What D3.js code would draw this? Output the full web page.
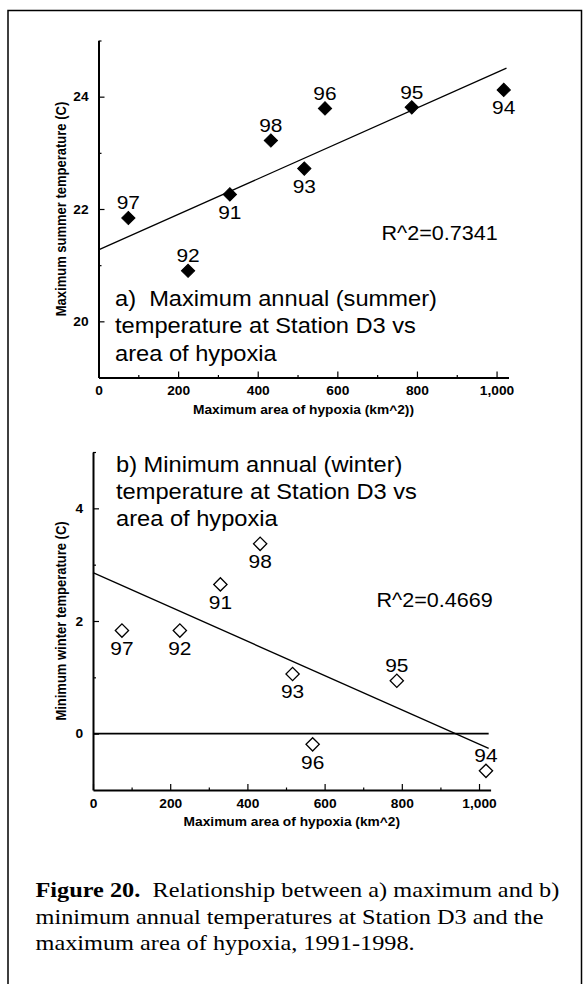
<!DOCTYPE html>
<html>
<head>
<meta charset="utf-8">
<script src="https://cdn.jsdelivr.net/npm/d3@7"></script>
<style>
  html, body { margin: 0; padding: 0; background: #fff; }
  svg { display: block; }
  text { white-space: pre; }
</style>
</head>
<body>
<svg id="fig" width="586" height="984"></svg>
<script>
// ---- data: station D3, 1991-1998 ----
const years          = ["97", "92", "91", "98", "93", "96", "95", "94"];
const hypoxiaArea    = [75, 225, 330, 433, 517, 569, 787, 1018];          // km^2
const maxSummerTemp  = [21.84, 20.90, 22.26, 23.22, 22.72, 23.79, 23.81, 24.12]; // C
const minWinterTemp  = [1.83, 1.83, 2.65, 3.37, 1.06, -0.19, 0.94, -0.66];       // C
const summerLabelSide = ["above", "above", "below", "above", "below", "above", "above", "below"];
const winterLabelSide = ["below", "below", "below", "below", "below", "below", "above", "above"];

const xTicks        = [0, 200, 400, 600, 800, 1000];
const xMinorTicks   = [100, 300, 500, 700, 900];
const summerTicks   = [20, 22, 24];
const summerMinor   = [21, 23, 25];
const winterTicks   = [0, 2, 4];
const winterMinor   = [1, 3, 5];
const fitExtent     = [0, 1025];

const summerR2 = "R^2=0.7341";
const winterR2 = "R^2=0.4669";
const summerTitle = ["a)  Maximum annual (summer)", "temperature at Station D3 vs", "area of hypoxia"];
const winterTitle = ["b) Minimum annual (winter)", "temperature at Station D3 vs", "area of hypoxia"];
const summerXTitle = "Maximum area of hypoxia (km^2))";
const winterXTitle = "Maximum area of hypoxia (km^2)";
const summerYTitle = "Maximum summer temperature (C)";
const winterYTitle = "Minimum winter temperature (C)";
const captionBold = "Figure 20.";
const captionLines = [
  "  Relationship between a) maximum and b)",
  "minimum annual temperatures at Station D3 and the",
  "maximum area of hypoxia, 1991-1998."
];

// ---- drawing ----
const SANS = "'Liberation Sans', Arial, Helvetica, sans-serif";
const SERIF = "'Liberation Serif', 'Times New Roman', serif";
const SX = 1.1;   // horizontal stretch of lettering

const svg = d3.select("#fig");

// outer frame of the figure box
svg.append("rect")
  .attr("x", 8).attr("y", 10.5).attr("width", 573.5).attr("height", 1000)
  .attr("fill", "none").attr("stroke", "#000").attr("stroke-width", 1.5);

function linearFit(xs, ys) {
  const mx = d3.mean(xs), my = d3.mean(ys);
  let sxy = 0, sxx = 0;
  xs.forEach((x, i) => { sxy += (x - mx) * (ys[i] - my); sxx += (x - mx) * (x - mx); });
  const slope = sxy / sxx;
  return { slope, intercept: my - slope * mx };
}

function stretchedText(g, x, y, str, size, opts = {}) {
  return g.append("text")
    .attr("transform", `translate(${x},${y}) scale(${opts.sx || SX},1)`)
    .attr("text-anchor", opts.anchor || "start")
    .attr("font-family", opts.family || SANS)
    .attr("font-size", size)
    .attr("font-weight", opts.weight || "normal")
    .attr("fill", "#000")
    .text(str);
}

function drawPanel(cfg) {
  const g = svg.append("g");
  const x = d3.scaleLinear().domain([0, 1030]).range(cfg.xRange);
  const y = d3.scaleLinear().domain(cfg.yDomain).range(cfg.yRange);
  const x0 = cfg.xRange[0], yb = cfg.yRange[0];

  // major + minor ticks on the bottom axis
  const xAxis = g.append("g").attr("transform", `translate(0,${yb})`)
    .call(d3.axisBottom(x).tickValues(xTicks).tickFormat(d3.format(","))
      .tickSize(-6).tickSizeOuter(0).tickPadding(9));
  g.append("g").attr("transform", `translate(0,${yb})`)
    .call(d3.axisBottom(x).tickValues(xMinorTicks).tickFormat("").tickSize(-2.5).tickSizeOuter(0))
    .call(s => s.select(".domain").remove());

  const yAxis = g.append("g").attr("transform", `translate(${x0},0)`)
    .call(d3.axisLeft(y).tickValues(cfg.yTicks).tickFormat(d3.format("d"))
      .tickSize(-6).tickSizeOuter(0).tickPadding(9));
  g.append("g").attr("transform", `translate(${x0},0)`)
    .call(d3.axisLeft(y).tickValues(cfg.yMinor).tickFormat("").tickSize(-3).tickSizeOuter(0))
    .call(s => s.select(".domain").remove());

  g.selectAll(".domain").attr("stroke", "#000").attr("stroke-width", 2);
  g.selectAll(".tick line").attr("stroke", "#000").attr("stroke-width", 1.2);
  [xAxis, yAxis].forEach(a => a.selectAll("text")
    .attr("font-family", SANS).attr("font-size", 12.5).attr("font-weight", "bold")
    .attr("fill", "#000").attr("transform", `scale(${SX},1)`));

  // axis titles
  const xMid = (cfg.xRange[0] + cfg.xRange[1]) / 2;
  stretchedText(g, xMid, yb + 36, cfg.xTitle, 12.5, { anchor: "middle", weight: "bold" });
  const yMid = (cfg.yRange[0] + cfg.yRange[1]) / 2;
  g.append("text")
    .attr("transform", `translate(${cfg.yTitleX},${yMid}) scale(${SX},1) rotate(-90)`)
    .attr("text-anchor", "middle").attr("dy", "0.35em")
    .attr("font-family", SANS).attr("font-size", 13).attr("font-weight", "bold")
    .text(cfg.yTitle);

  // reference line
  if (cfg.zeroLine) {
    g.append("path")
      .attr("d", d3.line()([[x(fitExtent[0]), y(0)], [x(fitExtent[1]), y(0)]]))
      .attr("stroke", "#000").attr("stroke-width", 1.6).attr("fill", "none");
  }

  // least-squares trend line
  const fit = linearFit(hypoxiaArea, cfg.values);
  g.append("path")
    .attr("d", d3.line()(fitExtent.map(v => [x(v), y(fit.intercept + fit.slope * v)])))
    .attr("stroke", "#000").attr("stroke-width", 1.3).attr("fill", "none");

  // markers
  const diamond = d3.symbol(d3.symbolSquare, 88)();
  g.selectAll(".pt").data(cfg.values).join("path")
    .attr("class", "pt")
    .attr("d", diamond)
    .attr("transform", (d, i) => `translate(${x(hypoxiaArea[i])},${y(d)}) rotate(45)`)
    .attr("fill", cfg.filled ? "#000" : "#fff")
    .attr("stroke", "#000").attr("stroke-width", cfg.filled ? 1 : 1.3);

  // year labels
  cfg.values.forEach((d, i) => {
    const off = cfg.sides[i] === "above" ? -8.5 : 24.5;
    stretchedText(g, x(hypoxiaArea[i]), y(d) + off, years[i], 19, { anchor: "middle" });
  });

  // panel title and R^2
  cfg.title.forEach((line, i) =>
    stretchedText(g, cfg.titlePos[0], cfg.titlePos[1] + i * 27.3, line, 21.5));
  stretchedText(g, cfg.r2Pos[0], cfg.r2Pos[1], cfg.r2, 20, { sx: 1.08 });
}

drawPanel({
  xRange: [98.5, 508.5], yDomain: [19, 25], yRange: [377.5, 40.5],
  yTicks: summerTicks, yMinor: summerMinor,
  values: maxSummerTemp, sides: summerLabelSide, filled: true, zeroLine: false,
  title: summerTitle, titlePos: [115, 306],
  r2: summerR2, r2Pos: [381.5, 240],
  xTitle: summerXTitle, yTitle: summerYTitle, yTitleX: 61
});

drawPanel({
  xRange: [93, 490.6], yDomain: [-1, 5], yRange: [790, 452],
  yTicks: winterTicks, yMinor: winterMinor,
  values: minWinterTemp, sides: winterLabelSide, filled: false, zeroLine: true,
  title: winterTitle, titlePos: [116, 471.7],
  r2: winterR2, r2Pos: [376.5, 606.7],
  xTitle: winterXTitle, yTitle: winterYTitle, yTitleX: 61
});

// figure caption
const cap = svg.append("g");
const capSX = 1.13;
const l1 = cap.append("text")
  .attr("transform", `translate(35.5,897) scale(${capSX},1)`)
  .attr("font-family", SERIF).attr("font-size", 21.5).attr("fill", "#000");
l1.append("tspan").attr("font-weight", "bold").text(captionBold);
l1.append("tspan").text(captionLines[0]);
captionLines.slice(1).forEach((line, i) => {
  cap.append("text")
    .attr("transform", `translate(35.5,${923.5 + i * 26.7}) scale(${capSX},1)`)
    .attr("font-family", SERIF).attr("font-size", 21.5).attr("fill", "#000")
    .text(line);
});
</script>
</body>
</html>
